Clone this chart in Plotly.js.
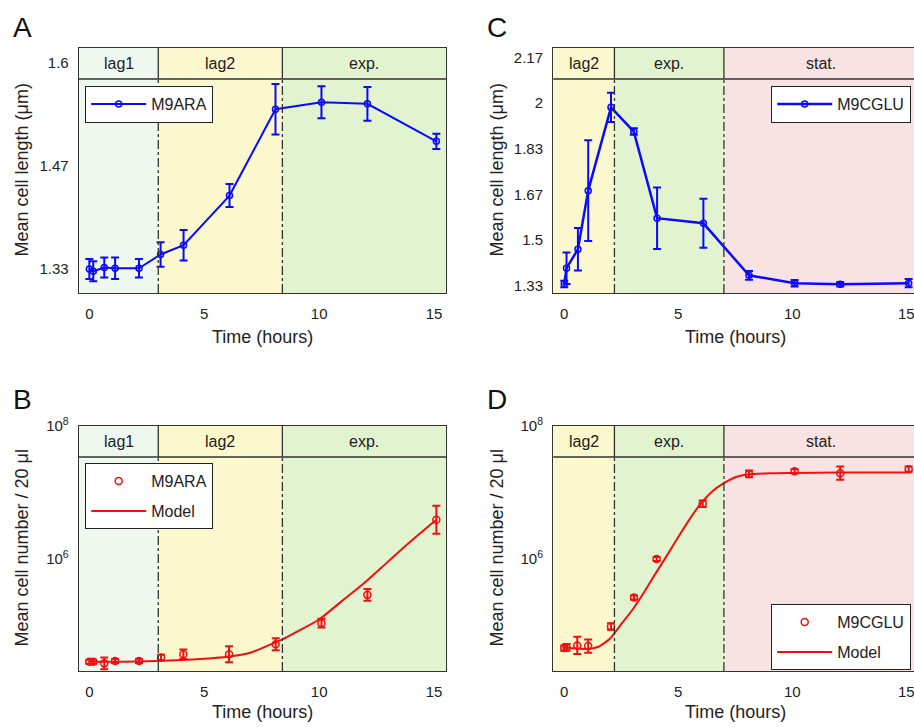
<!DOCTYPE html>
<html>
<head>
<meta charset="utf-8">
<script src="https://cdn.plot.ly/plotly-3.0.1.min.js"></script>
<style>
html, body { margin: 0; padding: 0; overflow: hidden; background: #fff; }
#chart { width: 930px; height: 727px; }
</style>
</head>
<body>
<div id="chart"></div>
<script>
// ---------- Data ----------
// Panel A: M9ARA mean cell length
const A_time = [0, 0.17, 0.65, 1.12, 2.16, 3.1, 4.1, 6.1, 8.1, 10.1, 12.1, 15.1];
const A_length = [1.330, 1.327, 1.332, 1.331, 1.331, 1.349, 1.361, 1.426, 1.539, 1.548, 1.546, 1.497];
const A_err = [0.013, 0.013, 0.013, 0.014, 0.012, 0.016, 0.020, 0.015, 0.033, 0.021, 0.022, 0.010];

// Panel C: M9CGLU mean cell length
const C_time = [0, 0.1, 0.6, 1.05, 2.05, 3.05, 4.07, 6.1, 8.1, 10.1, 12.1, 15.1];
const C_length = [1.337, 1.395, 1.465, 1.680, 1.986, 1.897, 1.579, 1.560, 1.369, 1.340, 1.336, 1.340];
const C_err = [0.012, 0.058, 0.078, 0.185, 0.054, 0.012, 0.113, 0.090, 0.016, 0.012, 0.008, 0.015];

// Panel B: M9ARA mean cell number / 20 µl (error half-width in decades)
const B_time = [0, 0.17, 0.65, 1.12, 2.16, 3.12, 4.09, 6.08, 8.11, 10.1, 12.1, 15.1];
const B_number = [28500, 28500, 26900, 29200, 29200, 33100, 36900, 36900, 52200, 108400, 288400, 3890000];
const B_errDex = [0.03, 0.03, 0.09, 0.03, 0.03, 0.04, 0.07, 0.12, 0.09, 0.066, 0.09, 0.21];
const B_modelTime = [0, 1, 2, 3, 4, 5, 6, 7, 8, 8.4, 9, 10, 11, 12, 13, 14, 15.1];
const B_model = [28510, 28510, 28640, 29170, 30200, 31620, 33880, 38900, 53700, 61700, 79400, 123000, 234400, 446700, 912000, 1862000, 3890000];

// Panel D: M9CGLU mean cell number / 20 µl
const D_time = [0, 0.1, 0.57, 1.05, 2.05, 3.06, 4.05, 6.07, 8.1, 10.1, 12.1, 15.1];
const D_number = [45700, 46800, 50100, 49000, 96600, 263000, 1000000, 6760000, 19050000, 20900000, 19500000, 22400000];
const D_errDex = [0.04, 0.05, 0.13, 0.10, 0.05, 0.03, 0.03, 0.05, 0.05, 0.03, 0.10, 0.04];
const D_modelTime = [0, 0.5, 1, 1.5, 2, 2.5, 3, 3.5, 4, 4.5, 5, 5.5, 6, 6.5, 7, 7.5, 8, 9, 10, 12, 15.1];
const D_model = [46770, 45190, 44160, 47860, 63100, 104700, 173800, 316200, 602600, 1122000, 2138000, 3981000, 6918000, 10470000, 13800000, 16980000, 18620000, 19500000, 19720000, 19950000, 19950000];

// Growth phases
const phasesARA = ['lag1', 'lag2', 'exp.'];
const boundsARA = [3, 8.4];
const phasesGLU = ['lag2', 'exp.', 'stat.'];
const boundsGLU = [2.2, 7];
const phaseColors = { 'lag1': '#eef8ee', 'lag2': '#fbf8cd', 'exp.': '#e1f3cf', 'stat.': '#f9e2e2' };

const xTicks = [0, 5, 10, 15];
const A_yTicks = [1.33, 1.465, 1.6];
const A_yText = ['1.33', '1.47', '1.6'];
const C_yTicks = [1.33, 1.498, 1.666, 1.834, 2.002, 2.17];
const C_yText = ['1.33', '1.5', '1.67', '1.83', '2', '2.17'];
const logTicks = [1e6, 1e8];
const logText = ['10<sup>6</sup>', '10<sup>8</sup>'];

// ---------- Layout helpers ----------
const W = 930, H = 727;
const fx = v => v / W;
const fy = v => 1 - v / H;
const HEAD = 0.8735;
const BLUE = '#0a0aff', RED = '#f01010', FRAME = '#333';
const FONT = 'Liberation Sans, Arial, Helvetica, sans-serif';

const shapes = [], annotations = [];

function phaseDecor(xa, ya, xr, phases, bounds) {
  const edges = [xr[0], ...bounds, xr[1]];
  phases.forEach((p, i) => {
    shapes.push({ type: 'rect', xref: xa, yref: ya + ' domain', x0: edges[i], x1: edges[i + 1], y0: 0, y1: 1,
      fillcolor: phaseColors[p], line: { width: 0 }, layer: 'below' });
    annotations.push({ xref: xa, yref: ya + ' domain', x: (edges[i] + edges[i + 1]) / 2, y: (1 + HEAD) / 2,
      text: p, showarrow: false, font: { size: 16, color: '#222', family: FONT }, yanchor: 'middle' });
  });
  shapes.push({ type: 'line', xref: xa + ' domain', yref: ya + ' domain', x0: 0, x1: 1, y0: HEAD, y1: HEAD,
    line: { color: FRAME, width: 1.3 } });
  bounds.forEach(b => {
    shapes.push({ type: 'line', xref: xa, yref: ya + ' domain', x0: b, x1: b, y0: HEAD, y1: 1,
      line: { color: FRAME, width: 1.3 } });
    shapes.push({ type: 'line', xref: xa, yref: ya + ' domain', x0: b, x1: b, y0: 0, y1: HEAD,
      line: { color: FRAME, width: 1.3, dash: 'dashdot' } });
  });
}

function axisTitles(cx, plotTop, plotBottom, yTitleX, yText, xTitleY) {
  annotations.push({ xref: 'paper', yref: 'paper', x: fx(cx), y: fy(xTitleY), text: 'Time (hours)',
    showarrow: false, font: { size: 18, color: '#222', family: FONT }, xanchor: 'center', yanchor: 'middle' });
  annotations.push({ xref: 'paper', yref: 'paper', x: fx(yTitleX), y: fy((plotTop + plotBottom) / 2), text: yText,
    textangle: -90, showarrow: false, font: { size: 18, color: '#222', family: FONT }, xanchor: 'center', yanchor: 'middle' });
}

function letter(t, x, y) {
  annotations.push({ xref: 'paper', yref: 'paper', x: fx(x), y: fy(y), text: t, showarrow: false,
    font: { size: 28, color: '#111', family: FONT }, xanchor: 'center', yanchor: 'middle' });
}

const xrL = [-0.45, 15.52], xrR = [-0.48, 15.51];
const yrA = [1.2986, 1.619], yrC = [1.304, 2.204], yrLog = [4.315, 8.0];

phaseDecor('x', 'y', xrL, phasesARA, boundsARA);
phaseDecor('x2', 'y2', xrR, phasesGLU, boundsGLU);
phaseDecor('x3', 'y3', xrL, phasesARA, boundsARA);
phaseDecor('x4', 'y4', xrR, phasesGLU, boundsGLU);

axisTitles(262.5, 48, 293, 21, 'Mean cell length (μm)', 337);
axisTitles(735.6, 48, 293, 496, 'Mean cell length (μm)', 337);
axisTitles(262.5, 426, 671, 21, 'Mean cell number / 20 μl', 712);
axisTitles(735.6, 426, 671, 496, 'Mean cell number / 20 μl', 712);

letter('A', 22, 27);
letter('C', 497, 27);
letter('B', 22, 399);
letter('D', 497, 399);

function xAxis(dom, anchor, range) {
  return { domain: dom, anchor: anchor, range: range, tickvals: xTicks, ticktext: xTicks.map(String),
    showline: true, mirror: true, linecolor: FRAME, linewidth: 1.3, showgrid: false, zeroline: false, ticks: '',
    ticklabelstandoff: 7, tickfont: { size: 15, color: '#222', family: FONT }, fixedrange: true };
}
function yAxis(dom, anchor, range, vals, text, type) {
  return { domain: dom, anchor: anchor, range: range, type: type || 'linear', tickvals: vals, ticktext: text,
    showline: true, mirror: true, linecolor: FRAME, linewidth: 1.3, showgrid: false, zeroline: false, ticks: '',
    ticklabelstandoff: 6, tickfont: { size: 15, color: '#222', family: FONT }, fixedrange: true };
}

const upErr = (v, d) => v.map((val, i) => val * (Math.pow(10, d[i]) - 1));
const dnErr = (v, d) => v.map((val, i) => val * (1 - Math.pow(10, -d[i])));

const traces = [
  { x: A_time, y: A_length, xaxis: 'x', yaxis: 'y', mode: 'lines+markers', name: 'M9ARA', legend: 'legend',
    line: { color: BLUE, width: 2 }, marker: { symbol: 'circle-open', size: 6, color: BLUE, line: { width: 1.5, color: BLUE } },
    error_y: { type: 'data', array: A_err, color: BLUE, thickness: 2, width: 4 } },
  { x: C_time, y: C_length, xaxis: 'x2', yaxis: 'y2', mode: 'lines+markers', name: 'M9CGLU', legend: 'legend2',
    line: { color: BLUE, width: 2.5 }, marker: { symbol: 'circle-open', size: 6, color: BLUE, line: { width: 1.5, color: BLUE } },
    error_y: { type: 'data', array: C_err, color: BLUE, thickness: 2, width: 4 } },
  { x: B_time, y: B_number, xaxis: 'x3', yaxis: 'y3', mode: 'markers', name: 'M9ARA', legend: 'legend3', legendgroup: 'b1',
    marker: { symbol: 'circle-open', size: 7, color: RED, line: { width: 1.5, color: RED } },
    error_y: { type: 'data', symmetric: false, array: upErr(B_number, B_errDex), arrayminus: dnErr(B_number, B_errDex), color: RED, thickness: 2, width: 4 } },
  { x: B_modelTime, y: B_model, xaxis: 'x3', yaxis: 'y3', mode: 'lines', name: 'Model', legend: 'legend3', legendgroup: 'b2',
    line: { color: RED, width: 2, shape: 'spline', smoothing: 0.6 } },
  { x: D_time, y: D_number, xaxis: 'x4', yaxis: 'y4', mode: 'markers', name: 'M9CGLU', legend: 'legend4', legendgroup: 'd1',
    marker: { symbol: 'circle-open', size: 7, color: RED, line: { width: 1.5, color: RED } },
    error_y: { type: 'data', symmetric: false, array: upErr(D_number, D_errDex), arrayminus: dnErr(D_number, D_errDex), color: RED, thickness: 2, width: 4 } },
  { x: D_modelTime, y: D_model, xaxis: 'x4', yaxis: 'y4', mode: 'lines', name: 'Model', legend: 'legend4', legendgroup: 'd2',
    line: { color: RED, width: 2, shape: 'spline', smoothing: 0.6 } }
];

function legendAt(x, y) {
  return { x: fx(x), y: fy(y), xanchor: 'left', yanchor: 'top', bgcolor: '#fff', bordercolor: '#222', borderwidth: 1.2,
    font: { size: 16, color: '#222', family: FONT }, itemwidth: 55, traceorder: 'grouped', tracegroupgap: 6 };
}

const layout = {
  width: W, height: H,
  margin: { l: 0, r: 0, t: 0, b: 0, pad: 0 },
  paper_bgcolor: '#fff', plot_bgcolor: '#fff',
  font: { family: FONT, color: '#222' },
  showlegend: true,
  xaxis: xAxis([fx(79), fx(446)], 'y', xrL),
  yaxis: yAxis([fy(293), fy(48)], 'x', yrA, A_yTicks, A_yText),
  xaxis2: xAxis([fx(553.3), fx(918)], 'y2', xrR),
  yaxis2: yAxis([fy(293), fy(48)], 'x2', yrC, C_yTicks, C_yText),
  xaxis3: xAxis([fx(79), fx(446)], 'y3', xrL),
  yaxis3: yAxis([fy(671), fy(426)], 'x3', yrLog, logTicks, logText, 'log'),
  xaxis4: xAxis([fx(553.3), fx(918)], 'y4', xrR),
  yaxis4: yAxis([fy(671), fy(426)], 'x4', yrLog, logTicks, logText, 'log'),
  legend: legendAt(85, 86),
  legend2: legendAt(771, 86),
  legend3: legendAt(85, 463),
  legend4: legendAt(771, 604),
  shapes: shapes,
  annotations: annotations
};

Plotly.newPlot('chart', traces, layout, { staticPlot: true, displayModeBar: false });
</script>
</body>
</html>
